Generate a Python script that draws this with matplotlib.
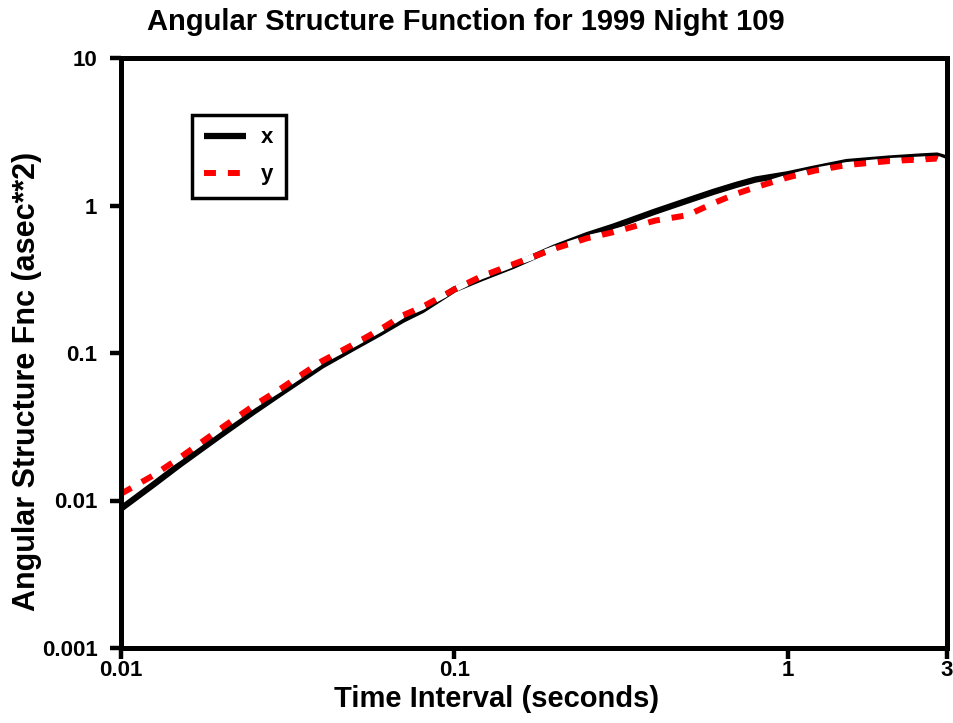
import matplotlib
matplotlib.use("Agg")
import matplotlib.pyplot as plt
from matplotlib.ticker import FixedLocator, FixedFormatter, NullLocator

plt.rcParams['font.family'] = ['Liberation Sans', 'DejaVu Sans']
plt.rcParams['font.weight'] = 'bold'

title = "Angular Structure Function for 1999 Night 109"
xlabel = "Time Interval (seconds)"
ylabel = "Angular Structure Fnc (asec**2)"

t = [0.01, 0.0125, 0.015, 0.02, 0.025, 0.03, 0.04, 0.05, 0.06, 0.07, 0.08,
     0.1, 0.12, 0.15, 0.2, 0.25, 0.3, 0.4, 0.5, 0.6, 0.7, 0.8, 1.0, 1.2,
     1.5, 2.0, 2.5, 2.8, 3.0]
sf_x = [0.0088, 0.0128, 0.0175, 0.028, 0.040, 0.053, 0.082, 0.109, 0.137,
        0.168, 0.195, 0.27, 0.32, 0.39, 0.52, 0.63, 0.72, 0.91, 1.08, 1.24,
        1.38, 1.50, 1.63, 1.78, 1.97, 2.08, 2.15, 2.18, 2.08]
sf_y = [0.0111, 0.0148, 0.0195, 0.031, 0.044, 0.057, 0.088, 0.115, 0.145,
        0.18, 0.205, 0.27, 0.33, 0.40, 0.51, 0.60, 0.66, 0.79, 0.86, 1.04,
        1.2, 1.33, 1.55, 1.72, 1.88, 2.0, 2.05, 2.08, 1.96]

xticks = [0.01, 0.1, 1, 3]
xticklabels = ["0.01", "0.1", "1", "3"]
yticks = [0.001, 0.01, 0.1, 1, 10]
yticklabels = ["0.001", "0.01", "0.1", "1", "10"]

fig = plt.figure(figsize=(9.54, 7.23), dpi=100)
ax = fig.add_axes([121/954, 1-648/723, (947-121)/954, (648-58)/723])

ax.plot(t, sf_x, color='black', lw=4.5, label='x', solid_capstyle='butt')
ax.plot(t, sf_y, color='red', lw=4.3, linestyle=(0, (2.0, 2.0)),
        gapcolor='white', label='y', dash_capstyle='butt')

ax.set_xscale('log')
ax.set_yscale('log')
ax.set_xlim(0.01, 3)
ax.set_ylim(0.001, 10)

ax.xaxis.set_major_locator(FixedLocator(xticks))
ax.xaxis.set_major_formatter(FixedFormatter(xticklabels))
ax.xaxis.set_minor_locator(NullLocator())
ax.yaxis.set_major_locator(FixedLocator(yticks))
ax.yaxis.set_major_formatter(FixedFormatter(yticklabels))
ax.yaxis.set_minor_locator(NullLocator())

for s in ax.spines.values():
    s.set_linewidth(3.6)
ax.tick_params(axis='both', direction='out', length=8, width=3.2,
               labelsize=16)
ax.tick_params(axis='y', pad=9)
ax.tick_params(axis='x', pad=1)
for lab in ax.get_xticklabels() + ax.get_yticklabels():
    lab.set_fontweight('bold')

fig.text(466/954, 1-22/723, title, fontsize=21, fontweight='bold',
         ha='center', va='center')
fig.text(497/954, 1-699/723, xlabel, fontsize=21, fontweight='bold',
         ha='center', va='center')
fig.text(27/954, 1-381/723, ylabel, fontsize=22, fontweight='bold',
         ha='center', va='center', rotation=90)

leg = ax.legend(loc='upper left', bbox_to_anchor=(0.086, 0.903),
                borderaxespad=0, handlelength=1.9,
                labelspacing=0.72, fancybox=False, framealpha=1,
                edgecolor='black', borderpad=0.55, handletextpad=0.65,
                prop={'weight': 'bold', 'size': 16})
leg.get_frame().set_linewidth(2.5)

fig.savefig("out.png", dpi=100)
